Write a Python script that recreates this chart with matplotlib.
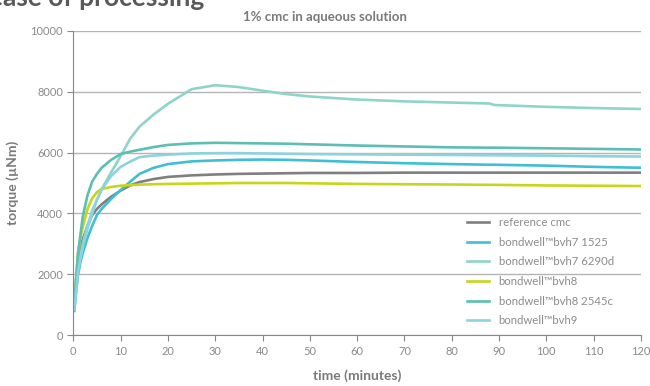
import matplotlib
matplotlib.use("Agg")
import matplotlib.pyplot as plt

plt.rcParams['font.family'] = ['Lato', 'DejaVu Sans']

# time axis (minutes) shared by all series
minutes = [0.2, 0.5, 1, 1.5, 2, 3, 4, 5, 6, 8, 10, 12, 14, 17, 20, 25, 30, 35,
           40, 45, 50, 60, 70, 80, 88, 89, 100, 110, 120]

reference_cmc = [850, 1500, 2400, 2850, 3150, 3600, 3950, 4150, 4300, 4550, 4750,
                 4920, 5030, 5130, 5200, 5250, 5280, 5300, 5310, 5320, 5330, 5330,
                 5340, 5340, 5340, 5340, 5340, 5340, 5340]
bvh7_1525 = [800, 1300, 2000, 2400, 2700, 3200, 3600, 3950, 4150, 4480, 4770,
             5040, 5300, 5500, 5620, 5710, 5740, 5760, 5770, 5760, 5740, 5690,
             5650, 5620, 5600, 5600, 5570, 5530, 5500]
bvh7_6290d = [850, 1400, 2200, 2600, 3000, 3600, 4100, 4450, 4800, 5350, 5880,
              6450, 6850, 7250, 7600, 8080, 8210, 8150, 8030, 7920, 7840, 7740,
              7680, 7640, 7610, 7560, 7500, 7460, 7430]
bvh8 = [850, 1700, 2700, 3200, 3550, 4150, 4500, 4700, 4800, 4870, 4910, 4930,
        4945, 4960, 4970, 4980, 4990, 5000, 5000, 5000, 4990, 4970, 4960, 4950,
        4940, 4940, 4920, 4910, 4900]
bvh8_2545c = [900, 1700, 2700, 3300, 3900, 4600, 5050, 5300, 5500, 5760, 5950,
              6030, 6090, 6180, 6250, 6300, 6320, 6310, 6300, 6290, 6270, 6230,
              6200, 6170, 6160, 6160, 6140, 6120, 6100]
bvh9 = [850, 1300, 2100, 2500, 2900, 3500, 4000, 4450, 4780, 5230, 5530, 5700,
        5850, 5900, 5930, 5970, 5980, 5980, 5970, 5960, 5950, 5940, 5930, 5920,
        5910, 5910, 5900, 5880, 5870]

series = [
    ('reference cmc', reference_cmc, '#7f7f7f'),
    ('bondwell\u2122bvh7 1525', bvh7_1525, '#3fbfd4'),
    ('bondwell\u2122bvh7 6290d', bvh7_6290d, '#8fd4c8'),
    ('bondwell\u2122bvh8', bvh8, '#c9d51c'),
    ('bondwell\u2122bvh8 2545c', bvh8_2545c, '#5cbfb1'),
    ('bondwell\u2122bvh9', bvh9, '#8cd3df'),
]

fig = plt.figure(figsize=(6.5, 3.86), dpi=100)
ax = fig.add_axes([0.1128, 0.1313, 0.8732, 0.7892])

for label, vals, color in series:
    ax.plot(minutes, vals, color=color, lw=1.9, label=label)

ax.set_xlim(0, 120)
ax.set_ylim(0, 10000)
ax.set_xticks(range(0, 121, 10))
ax.set_yticks(range(0, 10001, 2000))
ax.grid(axis='y', color='#b4b4b4', lw=1)
ax.set_axisbelow(True)
for s in ['top', 'right']:
    ax.spines[s].set_visible(False)
for s in ['left', 'bottom']:
    ax.spines[s].set_color('#888888')
ax.tick_params(colors='#888888', labelcolor='#8a8a8a', labelsize=8, length=4)

ax.set_xlabel('time (minutes)', fontsize=10, fontweight='bold', color='#7a7a7a',
              labelpad=9)
ax.set_ylabel('torque (\u00b5Nm)', fontsize=10, fontweight='bold', color='#7a7a7a',
              labelpad=8)

fig.text(0.5, 0.955, '1% cmc in aqueous solution', ha='center', va='center',
         fontsize=9.5, fontweight='bold', color='#7a7a7a')
fig.text(-0.017, 0.9857, 'ease of processing', ha='left', va='baseline',
         fontsize=19, fontweight='bold', color='#595959')

leg = ax.legend(loc='upper left', bbox_to_anchor=(0.693, 0.388), frameon=False,
                fontsize=8.2, handlelength=2.0, labelspacing=0.76,
                borderpad=0, borderaxespad=0)
for t in leg.get_texts():
    t.set_color('#8c8c8c')

fig.savefig('out.png', dpi=100)
